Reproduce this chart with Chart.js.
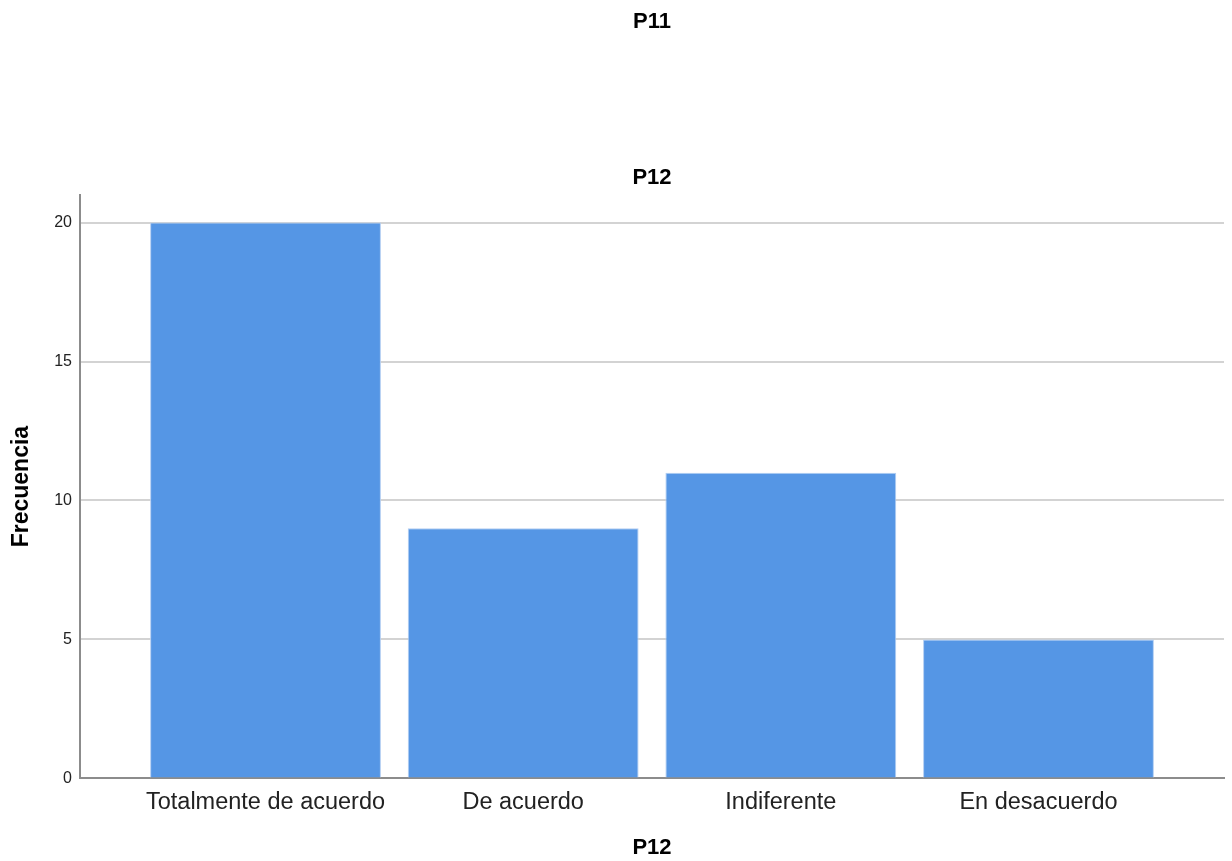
<!DOCTYPE html>
<html>
<head>
<meta charset="utf-8">
<script src="https://cdn.jsdelivr.net/npm/chart.js@4/dist/chart.umd.min.js"></script>
<style>
html,body{margin:0;padding:0;background:#fff;}
#c{display:block;}
</style>
</head>
<body>
<canvas id="c" width="1232" height="861"></canvas>
<script>
const categories = ["Totalmente de acuerdo", "De acuerdo", "Indiferente", "En desacuerdo"];
const frecuencia = [20, 9, 11, 5];
const yTicks = [0, 5, 10, 15, 20];
const titleText = "P11";
const subtitleText = "P12";
const xTitle = "P12";
const yTitle = "Frecuencia";

const FONT = "'Liberation Sans', Arial, sans-serif";

new Chart(document.getElementById('c'), {
  type: 'bar',
  data: {
    datasets: [{
      data: frecuencia.map((v, i) => ({x: i, y: v})),
      backgroundColor: '#5596e5',
      borderColor: '#b3cef2',
      borderWidth: 1,
      barPercentage: 0.896,
      categoryPercentage: 1.0
    }]
  },
  options: {
    responsive: false,
    animation: false,
    layout: {padding: {left: 0, right: 8, top: 0, bottom: 0}},
    plugins: {
      legend: {display: false},
      tooltip: {enabled: false},
      title: {
        display: true, text: titleText, fullSize: false,
        color: '#000', font: {family: FONT, size: 22, weight: 'bold'},
        padding: {top: 9, bottom: 129}
      },
      subtitle: {
        display: true, text: subtitleText, fullSize: false,
        color: '#000', font: {family: FONT, size: 22, weight: 'bold'},
        padding: {top: 0, bottom: 4}
      }
    },
    scales: {
      x: {
        type: 'linear',
        offset: false,
        min: -0.72, max: 3.72,
        grid: {display: false, drawTicks: false},
        border: {display: true, color: '#8c8c8c', width: 2},
        afterBuildTicks: s => { s.ticks = categories.map((_, i) => ({value: i})); },
        ticks: {
          autoSkip: false, maxRotation: 0, padding: 10,
          color: '#222', font: {family: FONT, size: 23.5},
          callback: v => categories[v]
        },
        title: {
          display: true, text: xTitle, color: '#000',
          font: {family: FONT, size: 22, weight: 'bold'},
          padding: {top: 8, bottom: 0}
        }
      },
      y: {
        min: 0, max: 21,
        afterFit: s => { s.width = 80; },
        afterBuildTicks: s => { s.ticks = yTicks.map(v => ({value: v})); },
        grid: {color: '#d3d3d3', lineWidth: 2, drawTicks: false},
        border: {display: true, color: '#8c8c8c', width: 2},
        ticks: {padding: 8, color: '#222', font: {family: FONT, size: 16}},
        title: {
          display: true, text: yTitle, color: '#000',
          font: {family: FONT, size: 23, weight: 'bold'},
          padding: {top: 8, bottom: 8}
        }
      }
    }
  }
});
</script>
</body>
</html>
